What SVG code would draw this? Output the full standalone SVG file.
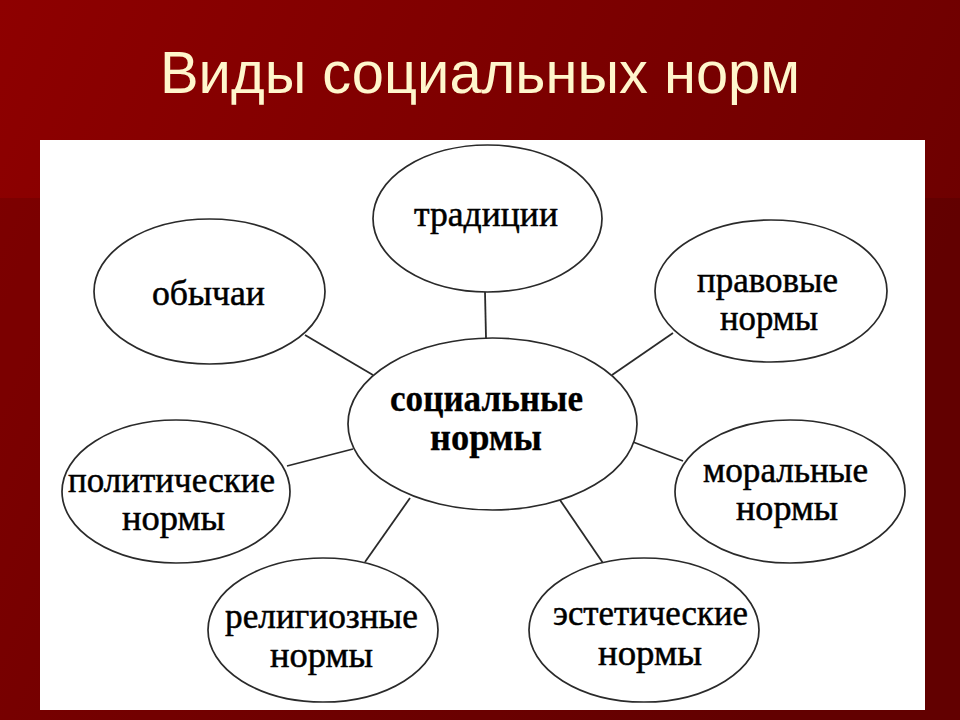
<svg xmlns="http://www.w3.org/2000/svg" width="960" height="720" viewBox="0 0 960 720">
  <defs>
    <linearGradient id="bg" x1="0" y1="0" x2="1" y2="0.3">
      <stop offset="0" stop-color="#8E0000"/>
      <stop offset="1" stop-color="#6E0000"/>
    </linearGradient>
    <style>
      .node ellipse { fill: #ffffff; stroke: #2a2a2a; stroke-width: 1.7; }
      .node text { font-family: "Liberation Serif", "Times New Roman", serif; font-size: 35px; fill: #000000; stroke: #000000; stroke-width: 0.5; text-anchor: middle; }
      .node.main text { font-weight: bold; font-size: 38px; stroke-width: 0.3; }
      #connectors line { stroke: #2a2a2a; stroke-width: 1.8; }
      .title { font-family: "Liberation Sans", Arial, sans-serif; font-size: 59px; fill: #FFF6CC; }
    </style>
  </defs>

  <rect x="0" y="0" width="960" height="720" fill="url(#bg)"/>
  <rect x="0" y="198" width="960" height="522" fill="#000000" fill-opacity="0.1"/>

  <text class="title" x="160" y="93" textLength="640" lengthAdjust="spacingAndGlyphs">Виды социальных норм</text>

  <rect x="40" y="140" width="885" height="570" fill="#ffffff"/>

  <g id="connectors">
    <line x1="305" y1="335" x2="373" y2="375"/>
    <line x1="485" y1="292" x2="486" y2="338"/>
    <line x1="673" y1="333" x2="612" y2="375"/>
    <line x1="287" y1="466" x2="353" y2="449"/>
    <line x1="633" y1="442" x2="683" y2="461"/>
    <line x1="365" y1="562" x2="410" y2="498"/>
    <line x1="560" y1="500" x2="603" y2="563"/>
  </g>

  <g id="node-traditions" class="node">
    <ellipse cx="487.5" cy="218.5" rx="114.5" ry="73.5"/>
    <text x="486" y="226" textLength="144" lengthAdjust="spacingAndGlyphs">традиции</text>
  </g>

  <g id="node-customs" class="node">
    <ellipse cx="209.5" cy="291.5" rx="115.5" ry="72.5"/>
    <text x="208.5" y="305" textLength="113" lengthAdjust="spacingAndGlyphs">обычаи</text>
  </g>

  <g id="node-legal" class="node">
    <ellipse cx="771" cy="291" rx="116" ry="71"/>
    <text x="767.5" y="292" textLength="141" lengthAdjust="spacingAndGlyphs">правовые</text>
    <text x="769" y="330" textLength="98" lengthAdjust="spacingAndGlyphs">нормы</text>
  </g>

  <g id="node-social" class="node main">
    <ellipse cx="492.5" cy="424" rx="144.5" ry="86"/>
    <text x="486.5" y="411" textLength="193" lengthAdjust="spacingAndGlyphs">социальные</text>
    <text x="486" y="450" textLength="112" lengthAdjust="spacingAndGlyphs">нормы</text>
  </g>

  <g id="node-political" class="node">
    <ellipse cx="176" cy="491.5" rx="114" ry="71.5"/>
    <text x="171.5" y="492" textLength="207" lengthAdjust="spacingAndGlyphs">политические</text>
    <text x="173.5" y="530" textLength="103" lengthAdjust="spacingAndGlyphs">нормы</text>
  </g>

  <g id="node-moral" class="node">
    <ellipse cx="790" cy="491.5" rx="115" ry="71.5"/>
    <text x="785.5" y="482" textLength="165" lengthAdjust="spacingAndGlyphs">моральные</text>
    <text x="787" y="520" textLength="102" lengthAdjust="spacingAndGlyphs">нормы</text>
  </g>

  <g id="node-religious" class="node">
    <ellipse cx="323" cy="630" rx="115" ry="72"/>
    <text x="321.5" y="628" textLength="193" lengthAdjust="spacingAndGlyphs">религиозные</text>
    <text x="321.5" y="667" textLength="103" lengthAdjust="spacingAndGlyphs">нормы</text>
  </g>

  <g id="node-aesthetic" class="node">
    <ellipse cx="644" cy="630" rx="115" ry="72"/>
    <text x="650.5" y="625" textLength="195" lengthAdjust="spacingAndGlyphs">эстетические</text>
    <text x="650" y="665" textLength="104" lengthAdjust="spacingAndGlyphs">нормы</text>
  </g>
</svg>
